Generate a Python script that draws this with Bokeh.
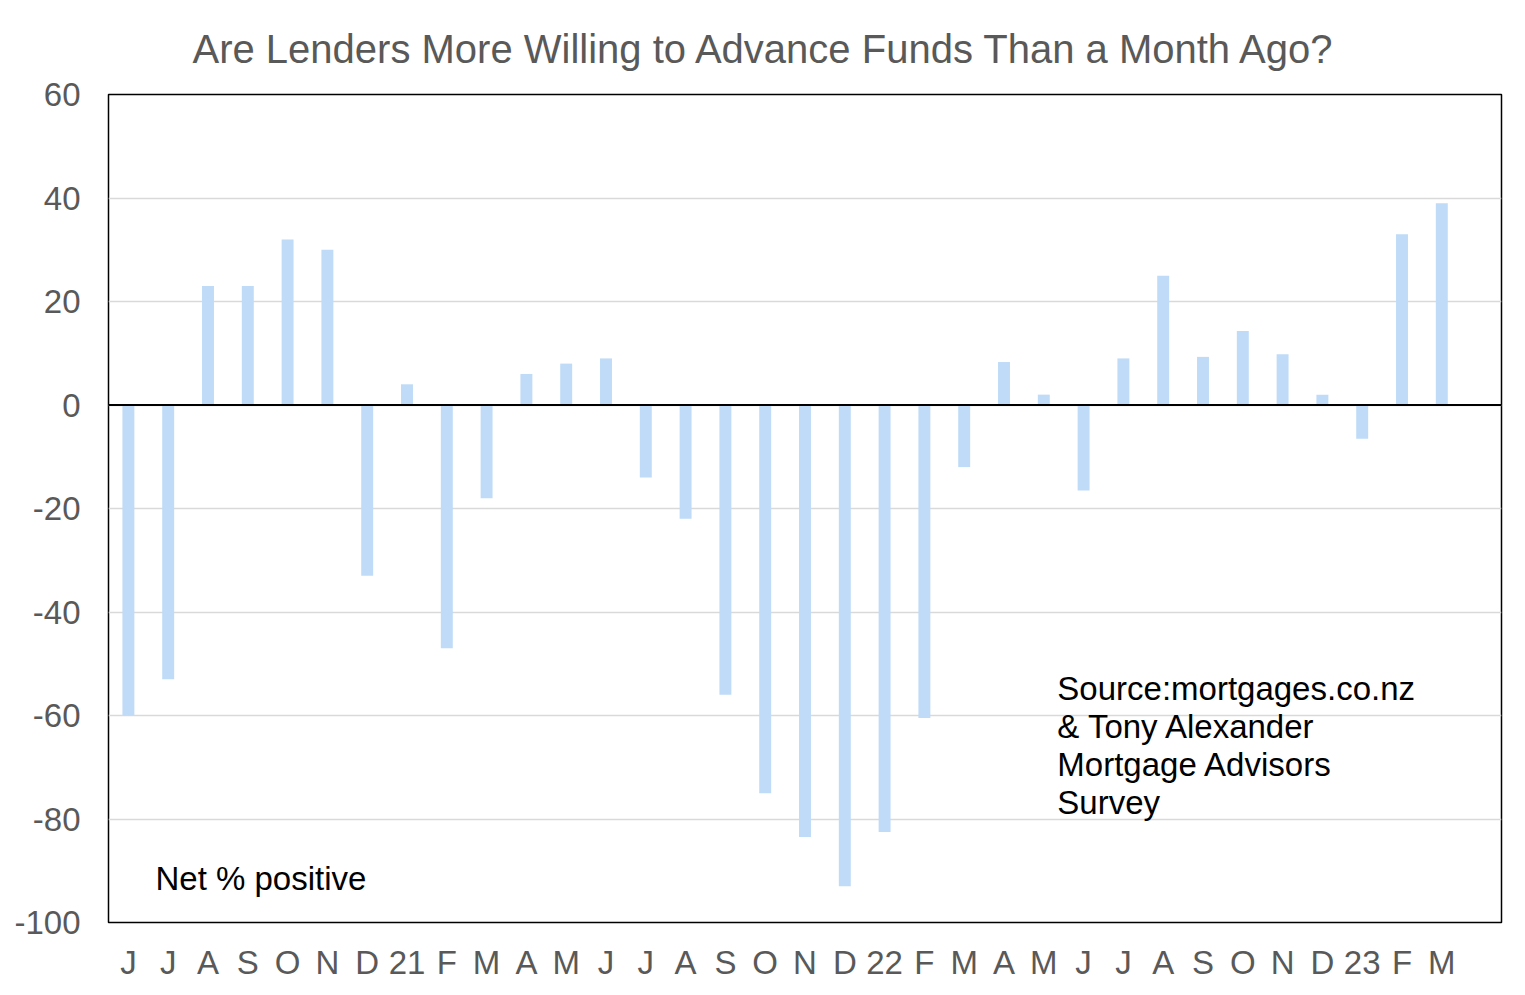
from bokeh.plotting import figure
from bokeh.models import Range1d, FixedTicker, Span, Label, Title
from bokeh.embed import file_html
from bokeh.resources import INLINE

months = ["J", "J", "A", "S", "O", "N", "D", "21", "F", "M", "A", "M",
          "J", "J", "A", "S", "O", "N", "D", "22", "F", "M", "A", "M",
          "J", "J", "A", "S", "O", "N", "D", "23", "F", "M"]
net_positive = [-60, -53, 23, 23, 32, 30, -33, 4, -47, -18, 6, 8,
                9, -14, -22, -56, -75, -83.5, -93, -82.5, -60.5, -12, 8.3, 2,
                -16.5, 9, 25, 9.3, 14.3, 9.8, 2, -6.5, 33, 39]
y_ticks = [-100, -80, -60, -40, -20, 0, 20, 40, 60]
title_text = "Are Lenders More Willing to Advance Funds Than a Month Ago?"
source_lines = ["Source:mortgages.co.nz", "& Tony Alexander",
                "Mortgage Advisors", "Survey"]

FONT = "Liberation Sans"
xs = list(range(len(months)))

p = figure(width=1525, height=992, output_backend="svg", toolbar_location=None,
           x_range=Range1d(-0.5, 34.5), y_range=Range1d(-100, 60),
           min_border_left=108, min_border_right=24, min_border_top=94,
           min_border_bottom=70)

p.add_layout(Title(text=title_text, align="left", offset=84, standoff=48,
                   text_font=FONT, text_font_size="40px", text_color="#595959",
                   text_font_style="normal"), "above")

p.vbar(x=xs, top=net_positive, bottom=0, width=0.3, fill_color="#bfdbf7",
       line_color=None)

p.outline_line_color = "black"
p.outline_line_width = 1.5
p.background_fill_color = "white"
p.border_fill_color = "white"

p.xgrid.grid_line_color = None
p.ygrid.grid_line_color = "#d9d9d9"
p.ygrid.grid_line_width = 1.5
p.ygrid.ticker = FixedTicker(ticks=y_ticks)

p.yaxis.ticker = FixedTicker(ticks=y_ticks)
p.yaxis.major_label_overrides = {t: str(t) for t in y_ticks}
p.xaxis.ticker = FixedTicker(ticks=xs)
p.xaxis.major_label_overrides = {i: m for i, m in enumerate(months)}

for ax in (p.xaxis[0], p.yaxis[0]):
    ax.axis_line_color = None
    ax.major_tick_line_color = None
    ax.minor_tick_line_color = None
    ax.major_label_text_font = FONT
    ax.major_label_text_font_size = "33px"
    ax.major_label_text_color = "#595959"
p.xaxis.major_label_standoff = 15
p.yaxis.major_label_standoff = 22

p.add_layout(Span(location=0, dimension="width", line_color="black", line_width=2))

p.add_layout(Label(x=0.68, y=-91.5, text="Net % positive", text_font=FONT,
                   text_font_size="33px", text_color="black", text_baseline="middle"))

for i, line in enumerate(source_lines):
    p.add_layout(Label(x=23.34, y=-54.7, y_offset=-38 * i, text=line, text_font=FONT,
                       text_font_size="33px", text_color="black",
                       text_baseline="middle"))

open("out.html", "w").write(file_html(p, INLINE))
